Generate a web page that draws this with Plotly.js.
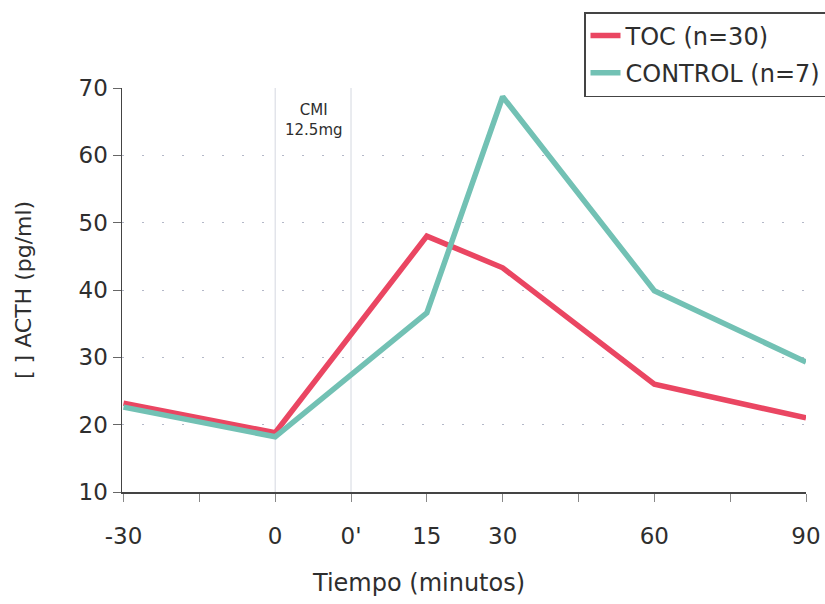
<!DOCTYPE html>
<html><head><meta charset="utf-8">
<script src="https://cdn.plot.ly/plotly-3.0.1.min.js"></script>
<style>html,body{margin:0;padding:0;background:#fff;}#chart{width:825px;height:604px;}</style>
</head><body><div id="chart"></div>
<script>
// Data
var timeLabels = ['-30', '0', '15', '30', '60', '90'];
var tocValues = [23.2, 18.8, 48.0, 43.3, 26.0, 21.0];
var controlValues = [22.6, 18.2, 36.6, 68.7, 39.9, 29.3];
var axisTickLabels = ['-30', '', '0', "0'", '15', '30', '', '60', '', '90'];
var yTickValues = [10, 20, 30, 40, 50, 60, 70];
var seriesNames = ['TOC (n=30)', 'CONTROL (n=7)'];

// Axis mapping (tick slots are evenly spaced on the original axis)
var tickPos = axisTickLabels.map(function(_, i){ return i * 0.5; });
function xOf(label){ return tickPos[axisTickLabels.indexOf(label)]; }
var xs = timeLabels.map(xOf);

var font = 'DejaVu Sans, Arial, sans-serif';
var ink = '#2e2e2e';
var traces = [
  {x: xs, y: tocValues, name: seriesNames[0], mode: 'lines', legendgroup: 'a',
   line: {color: '#ea4662', width: 5.5}},
  {x: xs, y: controlValues, name: seriesNames[1], mode: 'lines', legendgroup: 'b',
   line: {color: '#72c1b4', width: 5.5}}
];

var layout = {
  width: 825, height: 604,
  margin: {l: 122, r: 19, t: 88, b: 112, autoexpand: false},
  paper_bgcolor: '#fff', plot_bgcolor: '#fff',
  font: {family: font, color: ink},
  showlegend: true,
  legend: {
    xref: 'container', x: 584/825, xanchor: 'left',
    yref: 'container', y: 1 - 12/604, yanchor: 'top',
    bgcolor: '#fff', bordercolor: '#444', borderwidth: 1.5,
    font: {size: 24, color: ink, family: font},
    tracegroupgap: 3, itemwidth: 30
  },
  xaxis: {
    range: [-0.01, 4.5],
    tickmode: 'array', tickvals: tickPos, ticktext: axisTickLabels,
    ticks: 'outside', ticklen: 8, tickcolor: '#888', tickwidth: 1,
    ticklabelstandoff: 15,
    tickfont: {size: 23, color: ink, family: font},
    showline: true, linecolor: '#444', linewidth: 1.5,
    showgrid: false, zeroline: false
  },
  yaxis: {
    range: [10, 70],
    tickmode: 'array', tickvals: yTickValues,
    ticks: 'outside', ticklen: 8, tickcolor: '#666', tickwidth: 1,
    tickfont: {size: 23, color: ink, family: font},
    showline: true, linecolor: '#444', linewidth: 1.5,
    showgrid: true, gridcolor: '#b4b8c8', gridwidth: 1, griddash: '2px,18px',
    zeroline: false
  },
  shapes: [
    {type: 'line', xref: 'x', yref: 'paper', x0: xOf('0'), x1: xOf('0'), y0: 0, y1: 1,
     line: {color: '#d4d8e0', width: 1}, layer: 'below'},
    {type: 'line', xref: 'x', yref: 'paper', x0: xOf("0'"), x1: xOf("0'"), y0: 0, y1: 1,
     line: {color: '#d4d8e0', width: 1}, layer: 'below'}
  ],
  annotations: [
    {x: 1.255, y: 65.3, xref: 'x', yref: 'y', text: 'CMI<br>12.5mg', showarrow: false,
     font: {size: 15, color: ink, family: font}, align: 'center'},
    {x: (418-122)/684, y: (492-583)/404, xref: 'paper', yref: 'paper', yanchor: 'middle',
     text: 'Tiempo (minutos)', showarrow: false,
     font: {size: 24, color: ink, family: font}},
    {x: (23-122)/684, y: 0.5, xref: 'paper', yref: 'paper', xanchor: 'center', yanchor: 'middle',
     text: '[ ] ACTH (pg/ml)', textangle: -90, showarrow: false,
     font: {size: 22, color: ink, family: font}}
  ]
};

Plotly.newPlot('chart', traces, layout, {displayModeBar: false, staticPlot: true});
</script></body></html>
